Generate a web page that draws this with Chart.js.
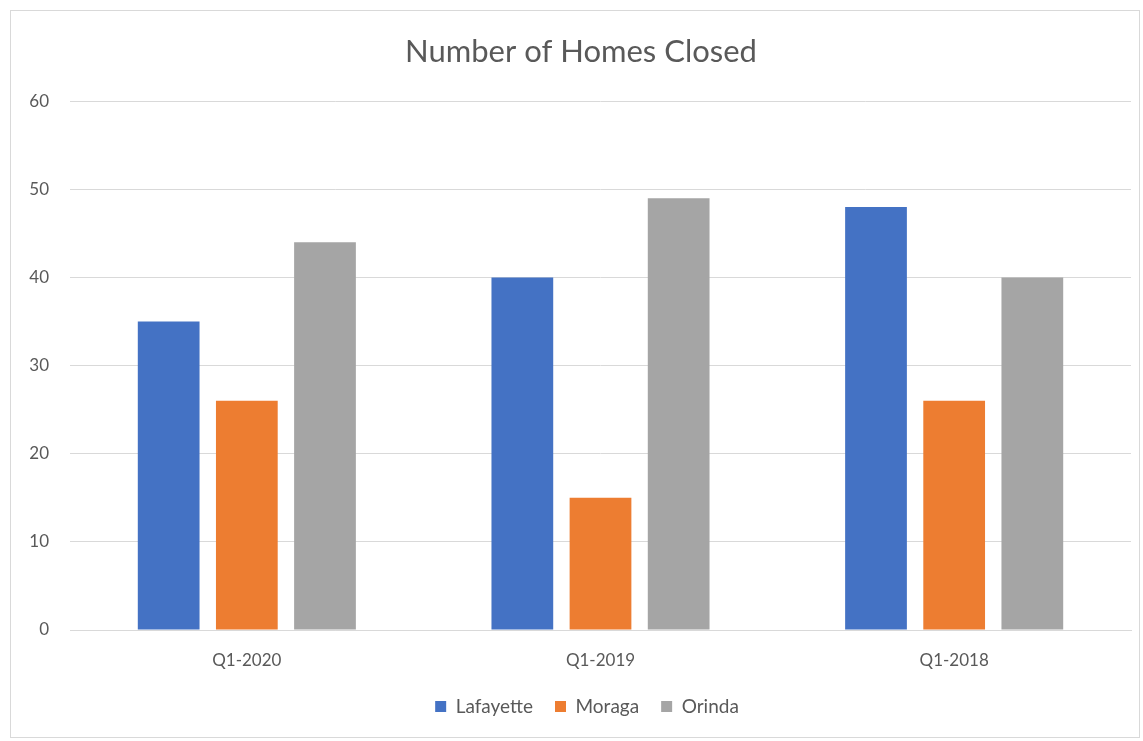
<!DOCTYPE html>
<html>
<head>
<meta charset="utf-8">
<script src="https://cdn.jsdelivr.net/npm/chart.js@4"></script>
<style>
    html, body { margin: 0; padding: 0; background: #fff; }
    .frame {
        position: absolute;
        left: 10px; top: 10px;
        width: 1128px; height: 726px;
        border: 1px solid #d9d9d9;
    }
    canvas { display: block; }
</style>
</head>
<body>
<div class="frame"><canvas id="homesChart" width="1128" height="726"></canvas></div>
<script>
// chart data
const categories = ['Q1-2020', 'Q1-2019', 'Q1-2018'];
const lafayette = [35, 40, 48];
const moraga = [26, 15, 26];
const orinda = [44, 49, 40];
const seriesNames = ['Lafayette', 'Moraga', 'Orinda'];
const seriesColors = ['#4472C4', '#ED7D31', '#A5A5A5'];

(function() {
    'use strict';

    const textColor = '#595959';
    const fontFamily = 'Lato, "Open Sans", sans-serif';

    const datasets = [lafayette, moraga, orinda].map(function(values, i) {
        return {
            label: seriesNames[i],
            data: values,
            backgroundColor: seriesColors[i],
            barPercentage: 0.79,
            categoryPercentage: 0.663
        };
    });

    // title and legend sit a little right of centre in the original
    const nudgeBoxes = {
        id: 'nudgeBoxes',
        afterLayout: function(chart) {
            if (chart.titleBlock) {
                chart.titleBlock.left += 10;
                chart.titleBlock.right += 10;
            }
            if (chart.legend) {
                chart.legend.left += 16;
                chart.legend.right += 16;
            }
        }
    };

    new Chart(document.getElementById('homesChart').getContext('2d'), {
        type: 'bar',
        data: { labels: categories, datasets: datasets },
        plugins: [nudgeBoxes],
        options: {
            responsive: false,
            animation: false,
            layout: { padding: { left: 0, right: 8, top: 12, bottom: 11 } },
            plugins: {
                title: {
                    display: true,
                    text: 'Number of Homes Closed',
                    color: textColor,
                    font: { family: fontFamily, size: 31, weight: 'normal' },
                    padding: { top: 10, bottom: 31 }
                },
                legend: {
                    position: 'bottom',
                    labels: {
                        color: textColor,
                        font: { family: fontFamily, size: 19 },
                        usePointStyle: true,
                        pointStyle: 'rect',
                        boxWidth: 11,
                        boxHeight: 11,
                        padding: 22
                    }
                },
                tooltip: { enabled: false }
            },
            scales: {
                x: {
                    grid: { display: false, drawTicks: false },
                    border: { color: '#d9d9d9' },
                    ticks: {
                        color: textColor,
                        font: { family: fontFamily, size: 17 },
                        padding: 20
                    },
                    afterFit: function(scale) { scale.height = 45; }
                },
                y: {
                    min: 0,
                    max: 60,
                    grid: { color: '#d9d9d9', drawTicks: false },
                    border: { display: false },
                    ticks: {
                        stepSize: 10,
                        color: textColor,
                        font: { family: fontFamily, size: 17 },
                        padding: 21
                    },
                    afterFit: function(scale) { scale.width = 59; }
                }
            }
        }
    });
})();
</script>
</body>
</html>
